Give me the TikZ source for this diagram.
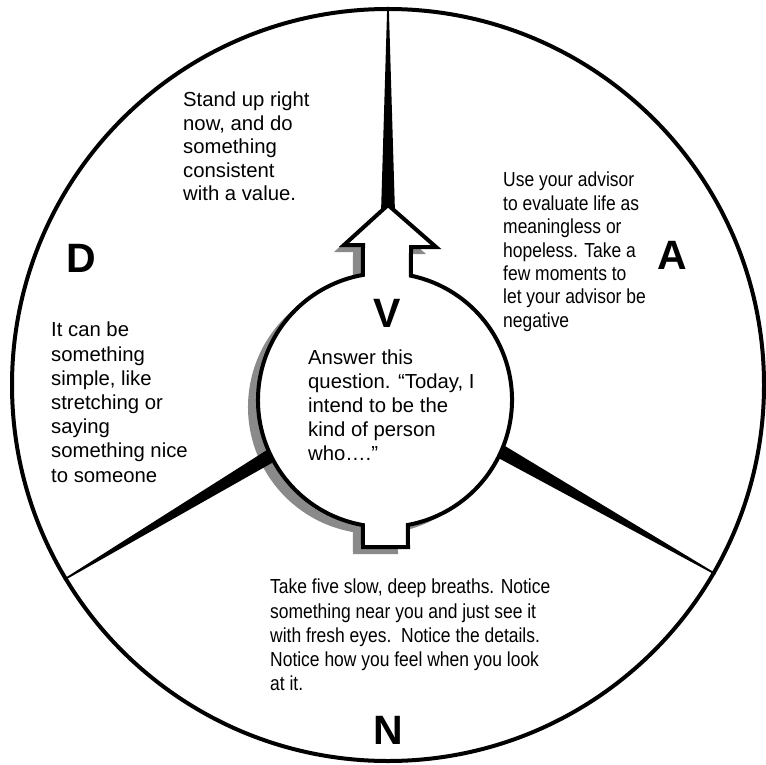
\documentclass[tikz,border=0pt]{standalone}
\usepackage{fontspec}
\setmainfont{Liberation Sans}
\newfontfamily\narrowfont[FakeStretch=0.86]{Liberation Sans}
\usetikzlibrary{calc,positioning}

\definecolor{shadowgray}{RGB}{138,138,138}

% outline of the V keyhole (picture units, y runs down)
\newcommand{\keyhole}{(388,205) -- (436,247) -- (411,247) -- (410.97,275.7)
  arc[start angle=281.8, end angle=439.6, radius=127] -- (408,547) -- (363,547)
  -- (362.95,525.07) arc[start angle=100, end angle=260, radius=127]
  -- (363,245) -- (344,245) -- cycle}

% tapered spike from #1 to #2, half width #3 at #1
\newcommand{\drawspike}[3]{%
  \fill ($(#1)!#3!90:(#2)$) -- ($(#2)!0.8pt!-90:(#1)$) -- ($(#2)!0.8pt!90:(#1)$) -- ($(#1)!#3!-90:(#2)$) -- cycle;}

\begin{document}
\begin{tikzpicture}[
    x = 1pt, y = -1pt,
    ring/.style = {
        circle,
        draw,
        line width=4pt,
        minimum size=752pt,
        inner sep=0pt
    },
    hub/.style = {
        circle,
        minimum size=254pt,
        inner sep=0pt
    },
    outline/.style = {
        draw,
        fill=white,
        line width=4pt,
        line join=miter
    },
    txt/.style = {
        font=\fontsize{20.3}{23.5}\selectfont,
        align=left,
        anchor=north west,
        inner sep=0pt
    },
    narrowtxt/.style = {
        txt,
        font=\narrowfont\fontsize{20.3}{23.5}\selectfont
    },
    letter/.style = {
        font=\bfseries\fontsize{41}{41}\selectfont,
        inner sep=0pt
    }
]
\useasboundingbox (0,0) rectangle (765,765);

\node[ring] (ring) at (388,385) {};
\node[hub] (hub) at (385,400) {};

\coordinate (tin) at (388,213);
\coordinate (lin) at ($(hub.206)!-6pt!(ring.211)$);
\coordinate (rin) at ($(hub.336)!-6pt!(ring.330)$);

% shadow, spikes, then the keyhole itself
\fill[shadowgray, shift={(-10,7)}] \keyhole;
\drawspike{tin}{ring.north}{7pt}
\drawspike{lin}{ring.211}{7pt}
\drawspike{rin}{ring.330}{7pt}
\path[outline] \keyhole;

\node[letter] (dlabel) at (81,258) {D};
\node[letter] (alabel) at (672,255) {A};
\node[letter] (vlabel) at (387,313) {V};
\node[letter, above=18pt of ring.south] (nlabel) {N};

\node[txt] (stand) at (183,92) {Stand up right\\now, and do\\something\\consistent\\with a value.};
\node[narrowtxt, font=\narrowfont\fontsize{20.3}{23.4}\selectfont] (advisor) at (503,172) {Use your advisor\\to evaluate life as\\meaningless or\\hopeless. Take a\\few moments to\\let your advisor be\\negative};
\node[txt, font=\fontsize{20.3}{24.2}\selectfont] (simple) at (51,322) {It can be\\something\\simple, like\\stretching or\\saying\\something nice\\to someone};
\node[txt, font=\fontsize{20.3}{23.8}\selectfont] (answer) at (308,350) {Answer this\\question. “Today, I\\intend to be the\\kind of person\\who….”};
\node[narrowtxt, font=\narrowfont\fontsize{20.3}{24.2}\selectfont] (breaths) at (270,579) {Take five slow, deep breaths. Notice\\something near you and just see it\\with fresh eyes.\ \ Notice the details.\\Notice how you feel when you look\\at it.};

\end{tikzpicture}
\end{document}
